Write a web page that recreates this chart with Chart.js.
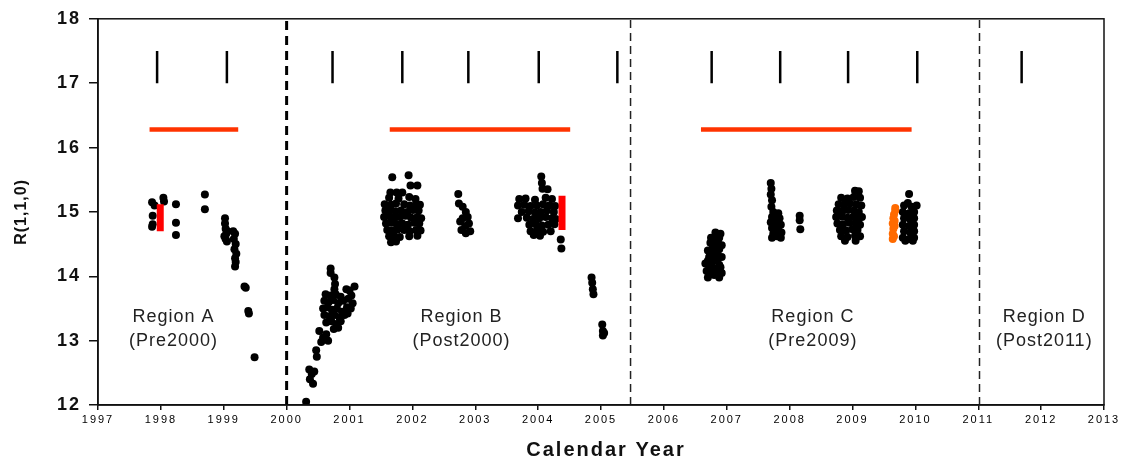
<!DOCTYPE html>
<html>
<head>
<meta charset="utf-8">
<script src="https://cdn.jsdelivr.net/npm/chart.js@4.4.1/dist/chart.umd.min.js"></script>
<style>
  html, body { margin: 0; padding: 0; background: #fff; }
  #wrap { width: 1128px; height: 467px; }
</style>
</head>
<body>
<div id="wrap"><canvas id="myChart" width="1128" height="467"></canvas></div>
<script>
// Mediciones por región: [año, R(1,1,0)]
const regionA = [
    [1997.86, 15.15], [1997.90, 15.10], [1997.87, 14.94], [1997.87, 14.81], [1997.86, 14.77],
    [1998.04, 15.22], [1998.05, 15.16],
    [1998.24, 15.12], [1998.24, 14.83], [1998.24, 14.64],
    [1998.70, 15.27], [1998.70, 15.04],
    [1999.02, 14.90], [1999.02, 14.82], [1999.03, 14.74], [1999.04, 14.66], [1999.01, 14.62],
    [1999.03, 14.58], [1999.05, 14.54], [1999.06, 14.70],
    [1999.15, 14.70], [1999.18, 14.66], [1999.16, 14.58], [1999.19, 14.50], [1999.17, 14.42],
    [1999.20, 14.35], [1999.18, 14.28], [1999.19, 14.22], [1999.18, 14.15],
    [1999.33, 13.84], [1999.35, 13.82], [1999.39, 13.46], [1999.40, 13.42], [1999.49, 12.74]
];

const regionB = [
    [2000.31, 12.05],
    [2000.36, 12.55], [2000.40, 12.48], [2000.37, 12.40], [2000.42, 12.33], [2000.44, 12.52],
    [2000.47, 12.85], [2000.48, 12.75],
    [2000.52, 13.15], [2000.58, 13.05], [2000.63, 13.10], [2000.66, 13.00], [2000.55, 12.98],
    [2000.70, 14.12], [2000.70, 14.05],
    [2000.76, 13.98], [2000.77, 13.88], [2000.76, 13.80],
    [2000.62, 13.72], [2000.70, 13.70], [2000.78, 13.72], [2000.86, 13.68],
    [2000.60, 13.62], [2000.67, 13.60], [2000.74, 13.63], [2000.82, 13.58], [2000.90, 13.62],
    [2000.58, 13.50], [2000.65, 13.52], [2000.72, 13.48], [2000.80, 13.50], [2000.88, 13.45], [2000.96, 13.52],
    [2000.60, 13.40], [2000.68, 13.38], [2000.76, 13.40], [2000.84, 13.36], [2000.92, 13.40],
    [2000.63, 13.28], [2000.71, 13.30], [2000.79, 13.26], [2000.86, 13.30],
    [2000.75, 13.18], [2000.82, 13.20],
    [2000.95, 13.80], [2001.00, 13.78], [2001.08, 13.84], [2001.03, 13.70], [2000.98, 13.65],
    [2001.05, 13.58], [2001.02, 13.50], [2000.97, 13.42],
    // 2002
    [2001.68, 15.54], [2001.94, 15.57], [2001.97, 15.41], [2002.08, 15.41],
    [2001.65, 15.30], [2001.75, 15.30], [2001.84, 15.30],
    [2001.63, 15.22], [2001.78, 15.21], [2001.95, 15.23], [2002.05, 15.20],
    [2001.56, 15.12], [2001.66, 15.11], [2001.74, 15.13], [2001.87, 15.12], [2001.96, 15.10], [2002.06, 15.12], [2002.12, 15.11],
    [2001.57, 15.02], [2001.65, 15.03], [2001.73, 15.01], [2001.82, 15.02], [2001.92, 15.00], [2002.01, 15.03], [2002.10, 15.02],
    [2001.55, 14.92], [2001.64, 14.93], [2001.72, 14.91], [2001.80, 14.92], [2001.89, 14.94], [2001.98, 14.91], [2002.08, 14.92], [2002.14, 14.90],
    [2001.58, 14.82], [2001.66, 14.83], [2001.75, 14.81], [2001.84, 14.82], [2001.93, 14.80], [2002.03, 14.83], [2002.11, 14.82],
    [2001.60, 14.72], [2001.68, 14.71], [2001.77, 14.73], [2001.87, 14.72], [2001.96, 14.70], [2002.06, 14.72], [2002.13, 14.71],
    [2001.63, 14.62], [2001.71, 14.63], [2001.80, 14.61], [2001.95, 14.62], [2002.08, 14.63],
    [2001.66, 14.53], [2001.74, 14.54],
    // 2003
    [2002.73, 15.28], [2002.74, 15.13], [2002.80, 15.08], [2002.85, 15.00], [2002.88, 14.92], [2002.80, 14.90],
    [2002.90, 14.82], [2002.84, 14.78], [2002.76, 14.85], [2002.92, 14.70], [2002.85, 14.67], [2002.78, 14.72],
    // 2004
    [2004.05, 15.55], [2004.06, 15.45], [2004.07, 15.36], [2004.15, 15.35],
    [2003.70, 15.20], [2003.80, 15.21], [2003.95, 15.19], [2004.12, 15.22], [2004.22, 15.20],
    [2003.68, 15.10], [2003.78, 15.11], [2003.88, 15.09], [2003.98, 15.10], [2004.08, 15.12], [2004.18, 15.10], [2004.27, 15.09],
    [2003.74, 15.00], [2003.85, 15.01], [2003.95, 14.99], [2004.04, 15.00], [2004.14, 15.02], [2004.25, 15.00],
    [2003.68, 14.90], [2003.82, 14.91], [2003.92, 14.89], [2004.02, 14.90], [2004.12, 14.92], [2004.22, 14.90], [2004.28, 14.89],
    [2003.86, 14.80], [2003.96, 14.81], [2004.06, 14.79], [2004.16, 14.80], [2004.26, 14.81],
    [2003.88, 14.70], [2003.98, 14.71], [2004.08, 14.69], [2004.20, 14.70],
    [2003.93, 14.64], [2004.03, 14.63],
    [2004.36, 14.57], [2004.37, 14.43],
    // 2005
    [2004.85, 13.98], [2004.86, 13.90], [2004.87, 13.80], [2004.88, 13.72],
    [2005.02, 13.25], [2005.03, 13.15], [2005.03, 13.08], [2005.05, 13.12]
];

const regionC = [
    // 2007
    [2006.82, 14.68], [2006.90, 14.66], [2006.84, 14.62], [2006.75, 14.60], [2006.88, 14.60], [2006.80, 14.56],
    [2006.86, 14.55], [2006.74, 14.52], [2006.82, 14.50], [2006.92, 14.48], [2006.78, 14.45], [2006.88, 14.42],
    [2006.70, 14.40], [2006.85, 14.38], [2006.78, 14.35], [2006.92, 14.30], [2006.72, 14.30], [2006.86, 14.28],
    [2006.80, 14.25], [2006.70, 14.24], [2006.66, 14.20], [2006.76, 14.20], [2006.88, 14.18], [2006.72, 14.16],
    [2006.90, 14.14], [2006.75, 14.12], [2006.84, 14.12], [2006.68, 14.08], [2006.80, 14.08], [2006.86, 14.06],
    [2006.92, 14.05], [2006.74, 14.04], [2006.80, 14.02], [2006.70, 13.98], [2006.88, 13.98],
    // 2008
    [2007.70, 15.45], [2007.71, 15.36], [2007.70, 15.27], [2007.72, 15.18], [2007.71, 15.08], [2007.74, 15.00],
    [2007.82, 14.98], [2007.78, 14.94], [2007.72, 14.92], [2007.84, 14.90], [2007.78, 14.85], [2007.70, 14.84],
    [2007.80, 14.82], [2007.86, 14.80], [2007.72, 14.75], [2007.82, 14.72], [2007.76, 14.70], [2007.87, 14.68],
    [2007.74, 14.66], [2007.84, 14.64], [2007.80, 14.62], [2007.86, 14.60], [2007.72, 14.60],
    [2008.16, 14.94], [2008.16, 14.87], [2008.17, 14.73],
    // 2009
    [2009.04, 15.33], [2009.10, 15.32],
    [2008.82, 15.22], [2008.92, 15.21], [2009.02, 15.23], [2009.12, 15.22],
    [2008.78, 15.12], [2008.86, 15.11], [2008.96, 15.13], [2009.06, 15.12], [2009.14, 15.10],
    [2008.75, 15.02], [2008.84, 15.01], [2008.93, 15.03], [2009.02, 15.02], [2009.10, 15.00],
    [2008.74, 14.92], [2008.83, 14.93], [2008.92, 14.91], [2009.01, 14.92], [2009.10, 14.90], [2009.15, 14.92],
    [2008.76, 14.82], [2008.85, 14.81], [2008.95, 14.83], [2009.05, 14.82], [2009.12, 14.80],
    [2008.80, 14.72], [2008.90, 14.71], [2009.00, 14.73], [2009.08, 14.72],
    [2008.82, 14.62], [2008.92, 14.61], [2009.04, 14.63], [2009.12, 14.62],
    [2008.88, 14.55], [2009.05, 14.55],
    // 2010
    [2009.90, 15.28], [2009.88, 15.14], [2009.82, 15.10], [2009.94, 15.08], [2010.02, 15.10],
    [2009.80, 15.00], [2009.90, 14.98], [2009.98, 15.00], [2009.82, 14.90], [2009.92, 14.88], [2009.98, 14.90],
    [2009.80, 14.80], [2009.90, 14.78], [2009.98, 14.80], [2009.82, 14.70], [2009.92, 14.68], [2009.98, 14.70],
    [2009.80, 14.60], [2009.90, 14.58], [2009.98, 14.60], [2009.84, 14.55], [2009.96, 14.55]
];

const orangePoints = [
    [2009.64, 14.58], [2009.66, 14.62], [2009.64, 14.66], [2009.65, 14.74], [2009.67, 14.78], [2009.64, 14.82],
    [2009.67, 14.86], [2009.65, 14.90], [2009.66, 14.96], [2009.68, 15.02], [2009.68, 15.06]
];

// Barras rojas: [año, desde, hasta]
const redStacks = [[1997.99, 14.70, 15.12], [2004.38, 14.72, 15.25]];

// Marcas verticales superiores
const markYears = [1997.94, 1999.05, 2000.73, 2001.84, 2002.89, 2004.01, 2005.26, 2006.76, 2007.85, 2008.93, 2010.03, 2011.69];
const markRange = [17.0, 17.5];

// Líneas rojas horizontales
const fitSpans = [[1997.82, 1999.23], [2001.64, 2004.51], [2006.59, 2009.94]];
const fitLevel = 16.28;

// Límites entre regiones
const boundaries = [2000.0, 2005.47, 2011.02];

// Etiquetas de región
const regionNames = ['Region A', 'Region B', 'Region C', 'Region D'];
const regionPeriods = ['(Pre2000)', '(Post2000)', '(Pre2009)', '(Post2011)'];
const regionCentres = [1998.2, 2002.78, 2008.37, 2012.05];
const labelLevel = 13.37;

const toXY = arr => arr.map(p => ({ x: p[0], y: p[1] }));
const FONT = "'Liberation Sans', Arial, sans-serif";

let datasets = [];

redStacks.forEach(s => datasets.push({
    data: [{ x: s[0], y: s[1] }, { x: s[0], y: s[2] }],
    showLine: true, borderColor: '#ff0000', borderWidth: 7, borderCapStyle: 'butt', pointRadius: 0
}));

datasets.push({
    data: toXY(orangePoints), backgroundColor: '#ff6a00', borderWidth: 0, pointRadius: 4
});

[regionA, regionB, regionC].forEach(r => datasets.push({
    data: toXY(r), backgroundColor: '#000', borderWidth: 0, pointRadius: 4
}));

markYears.forEach(m => datasets.push({
    data: [{ x: m, y: markRange[0] }, { x: m, y: markRange[1] }],
    showLine: true, borderColor: '#000', borderWidth: 2.5, pointRadius: 0
}));

fitSpans.forEach(s => datasets.push({
    data: [{ x: s[0], y: fitLevel }, { x: s[1], y: fitLevel }],
    showLine: true, borderColor: '#ff3300', borderWidth: 4.5, borderCapStyle: 'butt', pointRadius: 0
}));

boundaries.forEach((b, i) => datasets.push({
    data: [{ x: b, y: 12 }, { x: b, y: 18 }],
    showLine: true, borderColor: i === 0 ? '#000' : '#222',
    borderWidth: i === 0 ? 3 : 1.5, borderDash: i === 0 ? [9, 6] : [8, 5], pointRadius: 0
}));

// Marco, títulos de ejes y etiquetas de región
const decor = {
    id: 'decor',
    beforeDraw(chart) {
        chart.ctx.letterSpacing = '2px';
    },
    afterDraw(chart) {
        const { ctx, chartArea: a, scales: { x, y } } = chart;
        ctx.save();
        ctx.strokeStyle = '#111';
        ctx.lineWidth = 1.5;
        ctx.strokeRect(a.left, a.top, a.right - a.left, a.bottom - a.top);

        ctx.textAlign = 'center';
        ctx.textBaseline = 'middle';
        ctx.fillStyle = '#222';
        ctx.font = '18px ' + FONT;
        ctx.letterSpacing = '1px';
        regionCentres.forEach((c, i) => {
            const px = x.getPixelForValue(c);
            const py = y.getPixelForValue(labelLevel);
            ctx.fillText(regionNames[i], px, py);
            ctx.fillText(regionPeriods[i], px, py + 24);
        });

        ctx.fillStyle = '#111';
        ctx.font = 'bold 20px ' + FONT;
        ctx.letterSpacing = '2px';
        ctx.fillText('Calendar Year', (a.left + a.right) / 2 + 5, 450);

        ctx.translate(22, (a.top + a.bottom) / 2);
        ctx.rotate(-Math.PI / 2);
        ctx.font = 'bold 16px ' + FONT;
        ctx.letterSpacing = '1px';
        ctx.fillText('R(1,1,0)', 0, 0);
        ctx.restore();
        ctx.letterSpacing = '0px';
    }
};

const ctx = document.getElementById('myChart').getContext('2d');
const myChart = new Chart(ctx, {
    type: 'scatter',
    data: { datasets: datasets },
    options: {
        responsive: false,
        animation: false,
        layout: { padding: { left: 0, top: 14, right: 24, bottom: 0 } },
        plugins: { legend: { display: false }, tooltip: { enabled: false } },
        scales: {
            x: {
                type: 'linear', min: 1997, max: 2013,
                afterFit: s => { s.height = 62; },
                border: { color: '#111', width: 1.5 },
                grid: { drawOnChartArea: false, tickLength: 5, color: '#111', lineWidth: 1.5 },
                ticks: {
                    stepSize: 1, autoSkip: false, maxRotation: 0, padding: 3,
                    color: '#000', font: { family: FONT, size: 11 },
                    callback: v => String(v)
                }
            },
            y: {
                min: 12, max: 18,
                afterFit: s => { s.width = 98; },
                border: { color: '#111', width: 1.5 },
                grid: { drawOnChartArea: false, tickLength: 9, color: '#111', lineWidth: 1.5 },
                ticks: {
                    stepSize: 1, padding: 8,
                    color: '#111', font: { family: FONT, size: 18, weight: 'bold' }
                }
            }
        }
    },
    plugins: [decor]
});
</script>
</body>
</html>
